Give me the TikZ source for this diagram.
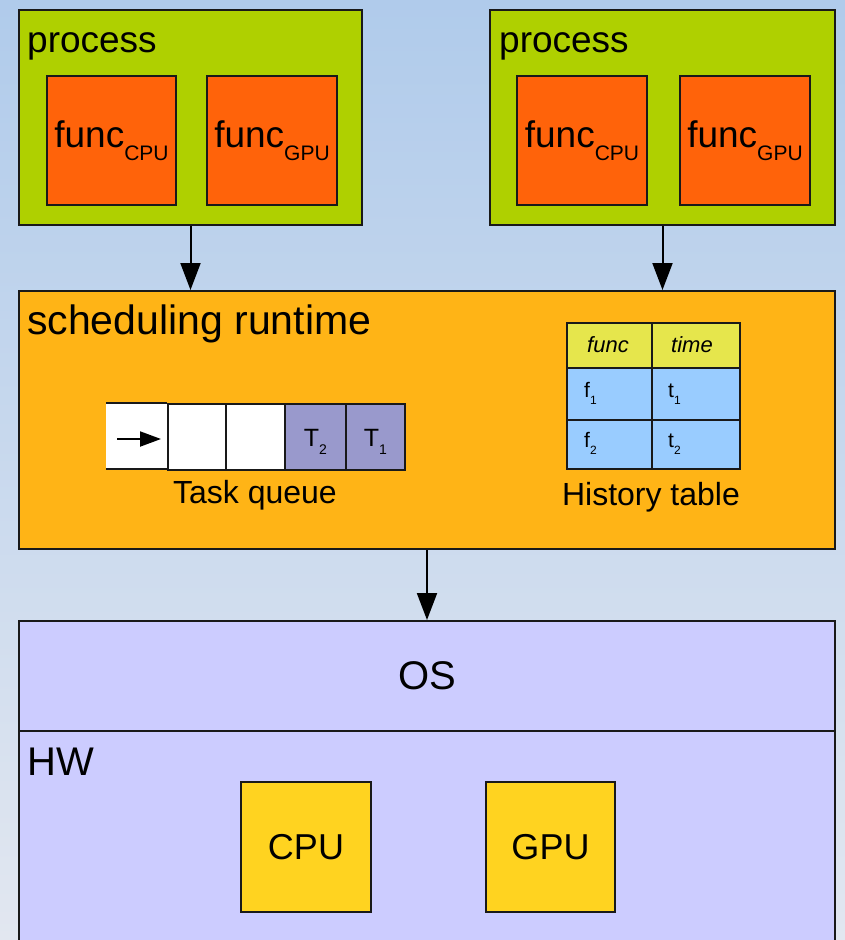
\documentclass[tikz,border=0pt]{standalone}
\usepackage{fontspec}
\setmainfont{Liberation Sans}
\usetikzlibrary{arrows.meta,calc}
\newcommand\setfs[1]{\fontsize{#1}{#1}\selectfont}
\definecolor{bgtop}{RGB}{176,203,235}
\definecolor{bgbot}{RGB}{226,231,240}
\definecolor{procgreen}{RGB}{175,208,0}
\definecolor{funcorange}{RGB}{255,99,10}
\definecolor{schedorange}{RGB}{255,180,22}
\definecolor{lav}{RGB}{204,204,255}
\definecolor{hwyellow}{RGB}{255,211,32}
\definecolor{qpurple}{RGB}{153,153,204}
\definecolor{thead}{RGB}{230,230,76}
\definecolor{tbody}{RGB}{153,204,255}
\definecolor{edge}{RGB}{25,25,25}
\tikzset{
  box/.style={draw=edge, line width=2pt, inner sep=0pt, anchor=north west},
  lbl/.style={inner sep=0pt, text=black},
  arr/.style={draw=black, line width=2pt, -{Triangle[width=20pt,length=27pt]}},
  qarr/.style={draw=black, line width=2pt, -{Triangle[width=15pt,length=21pt]}}
}
\begin{document}
\begin{tikzpicture}[x=1pt,y=-1pt]
\useasboundingbox (0,0) rectangle (845,940);
\clip (0,0) rectangle (845,940);
\shade[top color=bgtop, bottom color=bgbot] (0,0) rectangle (845,940);

% processes
\node[box, fill=procgreen, minimum width=343pt, minimum height=215pt] (p1) at (18,9) {};
\node[lbl, anchor=base west, font=\setfs{37}] (p1t) at (27,52) {process};
\node[box, fill=funcorange, minimum width=129pt, minimum height=129pt] (p1c) at (46,75) {};
\node[box, fill=funcorange, minimum width=130pt, minimum height=129pt] (p1g) at (206,75) {};
\node[lbl, anchor=base, font=\setfs{37}] (p1ct) at ($(p1c.center)+(0,6.5)$) {func\raisebox{-13pt}{\setfs{21}CPU}};
\node[lbl, anchor=base, font=\setfs{37}] (p1gt) at ($(p1g.center)+(0,6.5)$) {func\raisebox{-13pt}{\setfs{21}GPU}};

\node[box, fill=procgreen, minimum width=345pt, minimum height=215pt] (p2) at (489,9) {};
\node[lbl, anchor=base west, font=\setfs{37}] (p2t) at (499,52) {process};
\node[box, fill=funcorange, minimum width=130pt, minimum height=129pt] (p2c) at (516,75) {};
\node[box, fill=funcorange, minimum width=130pt, minimum height=129pt] (p2g) at (679,75) {};
\node[lbl, anchor=base, font=\setfs{37}] (p2ct) at ($(p2c.center)+(0,6.5)$) {func\raisebox{-13pt}{\setfs{21}CPU}};
\node[lbl, anchor=base, font=\setfs{37}] (p2gt) at ($(p2g.center)+(0,6.5)$) {func\raisebox{-13pt}{\setfs{21}GPU}};

% scheduling runtime
\node[box, fill=schedorange, minimum width=816pt, minimum height=258pt] (sr) at (18,290) {};
\node[lbl, anchor=base west, font=\setfs{41}] (srt) at (27,334) {scheduling runtime};

% task queue
\node[inner sep=0pt, anchor=north west, fill=white, minimum width=61pt, minimum height=66pt] (q1) at (106,403) {};
\node[box, fill=white, minimum width=58pt, minimum height=66pt] (q2) at (167,403) {};
\node[box, fill=white, minimum width=59pt, minimum height=66pt] (q3) at (225,403) {};
\node[box, fill=qpurple, minimum width=61pt, minimum height=66pt] (q4) at (284,403) {};
\node[box, fill=qpurple, minimum width=59pt, minimum height=66pt] (q5) at (345,403) {};
\draw[draw=edge, line width=2pt] (q1.north west) -- (q1.north east) (q1.south west) -- (q1.south east);
\coordinate (qa1) at (117,439);
\coordinate (qa2) at (161,439);
\draw[qarr] (qa1) -- (qa2);
\node[lbl, anchor=base, font=\setfs{25}] (q4t) at ($(q4.center)+(0,9)$) {T\raisebox{-8pt}{\setfs{14}2}};
\node[lbl, anchor=base, font=\setfs{25}] (q5t) at ($(q5.center)+(0,9)$) {T\raisebox{-8pt}{\setfs{14}1}};
\node[lbl, anchor=base, font=\setfs{32}] (tq) at (255,503) {Task queue};

% history table
\node[box, fill=thead, minimum width=85pt, minimum height=45pt] (h11) at (566,322) {};
\node[box, fill=thead, minimum width=88pt, minimum height=45pt] (h12) at (651,322) {};
\node[box, fill=tbody, minimum width=85pt, minimum height=52pt] (h21) at (566,367) {};
\node[box, fill=tbody, minimum width=88pt, minimum height=52pt] (h22) at (651,367) {};
\node[box, fill=tbody, minimum width=85pt, minimum height=49pt] (h31) at (566,419) {};
\node[box, fill=tbody, minimum width=88pt, minimum height=49pt] (h32) at (651,419) {};
\node[lbl, anchor=base, font=\setfs{22}\itshape] (h11t) at (608,352) {func};
\node[lbl, anchor=base, font=\setfs{22}\itshape] (h12t) at (692,352) {time};
\node[lbl, anchor=base west, font=\setfs{21}] (h21t) at (584,397) {f\raisebox{-7pt}{\setfs{12}1}};
\node[lbl, anchor=base west, font=\setfs{21}] (h22t) at (668,397) {t\raisebox{-7pt}{\setfs{12}1}};
\node[lbl, anchor=base west, font=\setfs{21}] (h31t) at (584,447) {f\raisebox{-7pt}{\setfs{12}2}};
\node[lbl, anchor=base west, font=\setfs{21}] (h32t) at (668,447) {t\raisebox{-7pt}{\setfs{12}2}};
\node[lbl, anchor=base, font=\setfs{32}] (ht) at (651,505) {History table};

% OS / HW
\node[box, fill=lav, minimum width=816pt, minimum height=110pt] (os) at (18,620) {};
\node[lbl, font=\setfs{40}] (ost) at (os.center) {OS};
\node[box, fill=lav, minimum width=816pt, minimum height=240pt] (hw) at (18,730) {};
\node[lbl, anchor=base west, font=\setfs{40}] (hwt) at (27,775) {HW};
\node[box, fill=hwyellow, minimum width=130pt, minimum height=130pt] (cpu) at (240,781) {};
\node[box, fill=hwyellow, minimum width=129pt, minimum height=130pt] (gpu) at (485,781) {};
\node[lbl, font=\setfs{36}] (cput) at (cpu.center) {CPU};
\node[lbl, font=\setfs{36}] (gput) at (gpu.center) {GPU};

% arrows
\draw[arr] (p1.south) -- (p1.south |- sr.north);
\draw[arr] (p2.south) -- (p2.south |- sr.north);
\draw[arr] (sr.south) -- (os.north);
\end{tikzpicture}
\end{document}
